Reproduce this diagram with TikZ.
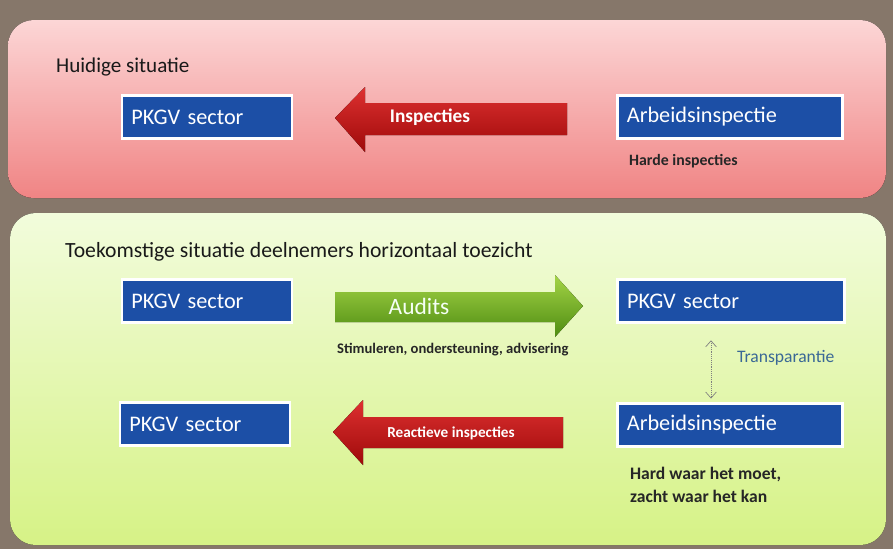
\documentclass[tikz,border=0pt]{standalone}
\usepackage{fontspec}
\setmainfont{Carlito}
\usepackage{xcolor}
\usetikzlibrary{arrows.meta,positioning,calc,shadows}

\definecolor{achtergrond}{HTML}{86776A}
\definecolor{rozeboven}{HTML}{FCD6D6}
\definecolor{rozeonder}{HTML}{F08484}
\definecolor{groenboven}{HTML}{F2FCDC}
\definecolor{groenonder}{HTML}{D6F286}
\definecolor{vakblauw}{HTML}{1C4FA6}
\definecolor{roodlicht}{HTML}{DE3030}
\definecolor{rooddonker}{HTML}{9E0A0A}
\definecolor{groenlicht}{HTML}{A4D446}
\definecolor{groendonker}{HTML}{4E8C12}
\definecolor{transblauw}{HTML}{3A6896}

\begin{document}
\begin{tikzpicture}[x=0.03cm, y=-0.03cm,
  paneel/.style={rounded corners=22pt, draw=none},
  vak/.style={draw=white, line width=2.2pt, fill=vakblauw, text=white,
              minimum height=1.3cm, inner sep=0pt, text width=#1, align=left,
              font=\fontsize{19}{21}\selectfont,
              drop shadow={shadow xshift=0.8pt, shadow yshift=-1.5pt, opacity=0.35}},
  vak/.default=5.1cm,
  rodepijl/.style={top color=roodlicht, bottom color=rooddonker, draw=none},
  groenepijl/.style={top color=groenlicht, bottom color=groendonker, draw=none},
  pijltekst/.style={text=white, font=\bfseries\fontsize{16.5}{18}\selectfont},
  kop/.style={anchor=west, text=black!90, font=\fontsize{18}{20}\selectfont},
  toelichting/.style={anchor=west, text=black!85, font=\bfseries\fontsize{13.5}{15}\selectfont, align=left},
  transparant/.style={densely dotted, semithick, draw=black!50, shorten >=3pt, shorten <=2pt,
                      {Straight Barb[length=1.8mm,width=3.2mm]}-{Straight Barb[length=1.8mm,width=3.2mm]}},
]
  % achtergrond en panelen
  \fill[achtergrond] (0,0) rectangle (893,549);
  \fill[paneel, top color=rozeboven, bottom color=rozeonder] (8,20) rectangle (886,198);
  \fill[paneel, top color=groenboven, bottom color=groenonder] (10,213) rectangle (886,545);

  % huidige situatie
  \node[kop] (huidig) at (52,67) {Huidige situatie};
  \node[vak] (pkgv1) at (207,117) {\hspace{8pt}PKGV sector};
  \node[vak=6.75cm] (arbeids1) at (730,117) {\hspace{8pt}Arbeidsinspectie};
  \fill[rodepijl] (567,103) -- (365,103) -- (365,87) -- (335,118) -- (365,152)
    -- (365,135) -- (567,135) -- cycle;
  \node[pijltekst] (inspecties) at (430,117) {Inspecties};
  \node[toelichting] (harde) at (625,161) {Harde inspecties};

  % toekomstige situatie
  \node[kop, font=\fontsize{18.5}{20}\selectfont] (toekomst) at (61,252)
    {Toekomstige situatie deelnemers horizontaal toezicht};
  \node[vak] (pkgv2) at (207,301) {\hspace{8pt}PKGV sector};
  \node[vak=6.8cm] (pkgv3) at (731,301) {\hspace{8pt}PKGV sector};
  \node[vak] (pkgv4) at (205,424) {\hspace{8pt}PKGV sector};
  \node[vak=6.75cm] (arbeids2) at (730,425) {\hspace{8pt}Arbeidsinspectie};

  \fill[groenepijl] (335,292) -- (555,292) -- (555,275) -- (583,306) -- (555,337)
    -- (555,322) -- (335,322) -- cycle;
  \node[pijltekst, text=green!4, font=\fontsize{20}{22}\selectfont] (audits) at (419,306) {Audits};
  \node[toelichting, font=\bfseries\fontsize{12.5}{14}\selectfont] (stimuleren) at (333,350)
    {Stimuleren, ondersteuning, advisering};

  \fill[rodepijl] (563,417) -- (363,417) -- (363,400) -- (333,432) -- (363,465)
    -- (363,448) -- (563,448) -- cycle;
  \node[pijltekst, font=\bfseries\fontsize{13}{15}\selectfont] (reactief) at (451,433)
    {Reactieve inspecties};

  \coordinate (tp) at ($(pkgv3.south)+(-20,14)$);
  \draw[transparant] (tp) -- (tp |- arbeids2.north);
  \node[anchor=west, text=transblauw, font=\fontsize{15}{17}\selectfont] (transparantie)
    at (733,358) {Transparantie};

  \node[toelichting, font=\bfseries\fontsize{15}{20}\selectfont] (hardzacht) at (626,485)
    {Hard waar het moet,\\zacht waar het kan};
\end{tikzpicture}
\end{document}
